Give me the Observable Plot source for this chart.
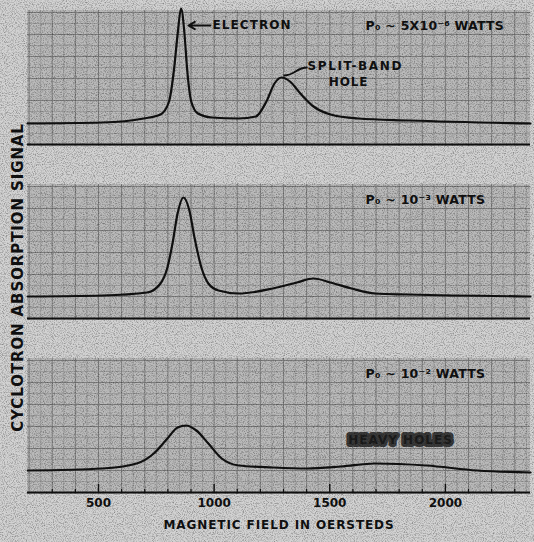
<!DOCTYPE html>
<html>
<head>
<meta charset="utf-8">
<script src="https://cdn.jsdelivr.net/npm/d3@7"></script>
<script src="https://cdn.jsdelivr.net/npm/@observablehq/plot@0.6"></script>
<style>
  html, body { margin: 0; padding: 0; background: #d2d2d2; }
  #chart svg { display: block; }
</style>
</head>
<body>
<div id="chart"></div>
<script>
// Three recorder traces, one per microwave power level
const panels = ["low", "mid", "high"];
const powerLabels = ["P₀ ~ 5X10⁻⁶ WATTS", "P₀ ~ 10⁻³ WATTS", "P₀ ~ 10⁻² WATTS"];

// Magnetic field (oersteds) and absorption signal (chart units above the zero line)
const lowField  = [193, 517, 695, 768, 805, 827, 842, 857, 872, 883, 901, 930, 989, 1106, 1180, 1226, 1261, 1291, 1328, 1373, 1430, 1503, 1622, 1843, 2368];
const lowSignal = [21, 22, 26, 30, 43, 76, 110, 136, 110, 76, 43, 31, 27, 26, 28, 43, 61, 67, 63, 51, 38, 30, 26, 24, 21];

const midField  = [194, 517, 710, 768, 798, 820, 842, 867, 893, 915, 945, 975, 1019, 1106, 1254, 1358, 1430, 1503, 1594, 1696, 1845, 2368];
const midSignal = [22, 23, 26, 35, 51, 75, 105, 121, 108, 81, 51, 35, 28, 25, 30, 36, 40, 36, 30, 25, 24, 22];

const highField  = [194, 517, 665, 739, 798, 842, 879, 923, 975, 1033, 1106, 1254, 1401, 1549, 1696, 1917, 2138, 2368];
const highSignal = [22, 24, 29, 39, 54, 65, 67, 62, 49, 34, 27, 25, 24, 26, 29, 27, 22, 20];

// Axis ticks
const fieldTicks = [500, 1000, 1500, 2000];
const minorFieldTicks = d3.range(300, 2400, 100).filter(d => !fieldTicks.includes(d));

// Annotations (field, signal)
const electronNote = {panel: "low", tip: [889, 119], tail: [984, 119], text: "ELECTRON"};
const holeNote = {panel: "low", tip: [1300, 69], tail: [1404, 77], text: ["SPLIT-BAND", "HOLE"], textAt: [[1404, 78], [1581, 62]]};
const heavyNote = {panel: "high", at: [1806, 52], text: "HEAVY HOLES"};

const traces = [
  ...lowField.map((f, i) => ({panel: "low", field: f, signal: lowSignal[i]})),
  ...midField.map((f, i) => ({panel: "mid", field: f, signal: midSignal[i]})),
  ...highField.map((f, i) => ({panel: "high", field: f, signal: highSignal[i]}))
];
const labelRows = panels.map((p, i) => ({panel: p, text: powerLabels[i]}));

// Graph-paper rulings
const paperTop = 134;
const gridMajorX = d3.range(200, 2400, 100);
const gridMinorX = d3.range(250, 2400, 100);
const gridMajorY = d3.range(0, paperTop, 22);
const gridMinorY = d3.range(11, paperTop, 22);

const font = "'DejaVu Sans', sans-serif";

const chart = Plot.plot({
  width: 534,
  height: 542,
  marginLeft: 27,
  marginRight: 4,
  marginTop: 0,
  marginBottom: 20,
  x: {domain: [193, 2368], axis: null},
  y: {domain: [-30, 144], axis: null},
  fy: {domain: panels, axis: null, padding: 0},
  style: {background: "transparent", fontFamily: font, color: "#111"},
  marks: [
    // graph paper
    Plot.rect(panels, {fy: d => d, x1: 193, x2: 2368, y1: -2, y2: paperTop, fill: "#bababa"}),
    Plot.ruleX(gridMinorX, {y1: -2, y2: paperTop, stroke: "#8e8e8e", strokeWidth: 0.6}),
    Plot.ruleX(gridMajorX, {y1: -2, y2: paperTop, stroke: "#707070", strokeWidth: 0.8}),
    Plot.ruleY(gridMinorY, {stroke: "#8e8e8e", strokeWidth: 0.6}),
    Plot.ruleY(gridMajorY, {stroke: "#707070", strokeWidth: 0.8}),

    // zero lines
    Plot.ruleY([0], {stroke: "#111", strokeWidth: 2.2}),

    // traces
    Plot.line(traces, {fy: "panel", x: "field", y: "signal", z: "panel", curve: "monotone-x", stroke: "#111", strokeWidth: 2.2}),

    // field axis on the bottom trace
    Plot.ruleX(fieldTicks, {fy: () => "high", y1: 0, y2: 8, stroke: "#111", strokeWidth: 1.4}),
    Plot.ruleX(minorFieldTicks, {fy: () => "high", y1: 0, y2: 3, stroke: "#111", strokeWidth: 1.2}),
    Plot.text(fieldTicks, {fy: () => "high", x: d => d, y: -11, text: d => String(d), fontSize: 12, fontWeight: "bold"}),
    Plot.text(["MAGNETIC FIELD IN OERSTEDS"], {fy: () => "high", frameAnchor: "bottom", textAnchor: "middle", dy: 6, fontSize: 12, fontWeight: "bold"}),

    // signal axis title
    Plot.text(["CYCLOTRON ABSORPTION SIGNAL"], {fy: () => "mid", frameAnchor: "left", textAnchor: "middle", dx: -9, dy: 16, rotate: -90, fontSize: 15, fontWeight: "bold"}),

    // power labels
    Plot.text(labelRows, {fy: "panel", x: 1655, y: 119, text: "text", textAnchor: "start", fontSize: 12.5, fontWeight: "bold"}),

    // annotations
    Plot.arrow([electronNote], {fy: "panel", x1: d => d.tail[0], y1: d => d.tail[1], x2: d => d.tip[0], y2: d => d.tip[1], stroke: "#111", strokeWidth: 2, headLength: 6}),
    Plot.text([electronNote], {fy: "panel", x: d => d.tail[0], y: d => d.tail[1], text: "text", textAnchor: "start", dx: 2, fontSize: 12, fontWeight: "bold"}),
    Plot.link([holeNote], {fy: "panel", x1: d => d.tail[0], y1: d => d.tail[1], x2: d => d.tip[0], y2: d => d.tip[1], curve: "bump-x", stroke: "#111", strokeWidth: 1.8}),
    Plot.text([holeNote], {fy: "panel", x: d => d.textAt[0][0], y: d => d.textAt[0][1], text: d => d.text[0], textAnchor: "start", fontSize: 12, fontWeight: "bold"}),
    Plot.text([holeNote], {fy: "panel", x: d => d.textAt[1][0], y: d => d.textAt[1][1], text: d => d.text[1], fontSize: 12, fontWeight: "bold"}),
    Plot.text([heavyNote], {fy: "panel", x: d => d.at[0], y: d => d.at[1], text: "text", fontSize: 12, fontWeight: "bold", fill: "#1c1c1c", stroke: "#3a3a3a", strokeWidth: 6})
  ]
});

const svg = d3.select(chart);

// Wide stencil lettering
const tracking = {
  "CYCLOTRON ABSORPTION SIGNAL": 0.9,
  "MAGNETIC FIELD IN OERSTEDS": 0.9,
  "ELECTRON": 1.1,
  "SPLIT-BAND": 1.6,
  "HOLE": 0.8,
  "HEAVY HOLES": 1.0,
  [powerLabels[0]]: 0.25,
  [powerLabels[1]]: 0.25,
  [powerLabels[2]]: 0.25
};
svg.selectAll("text").each(function() {
  const s = tracking[this.textContent];
  if (s) this.setAttribute("letter-spacing", s);
});

// Halftone grain of the printed chart paper, laid over the drawing
const defs = svg.insert("defs", ":first-child");
const grain = defs.append("filter").attr("id", "grain").attr("x", 0).attr("y", 0).attr("width", "100%").attr("height", "100%");
grain.append("feTurbulence").attr("type", "fractalNoise").attr("baseFrequency", 0.9).attr("numOctaves", 2).attr("seed", 7).attr("result", "noise");
grain.append("feColorMatrix").attr("in", "noise").attr("type", "matrix")
  .attr("values", "0 0 0 0 0  0 0 0 0 0  0 0 0 0 0  2.4 0 0 0 -1.05");
svg.append("rect").attr("width", 534).attr("height", 542).attr("fill", "#000").attr("opacity", 0.35).attr("filter", "url(#grain)").attr("pointer-events", "none");

document.getElementById("chart").append(chart);
</script>
</body>
</html>
